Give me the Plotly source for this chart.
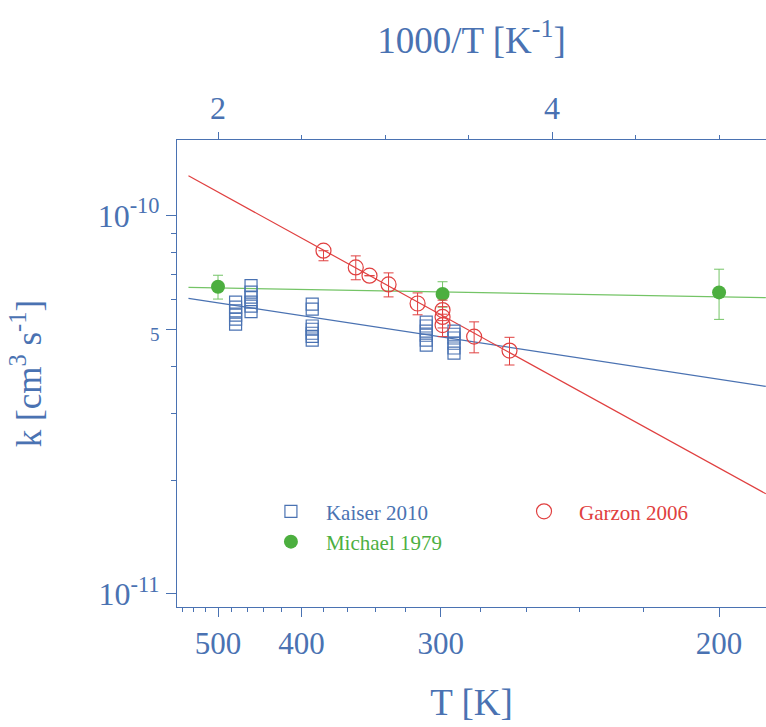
import numpy as np
import plotly.graph_objects as go

# ---------------- data ----------------
# Kaiser 2010 (open squares)
kaiser_T = [475, 475, 475, 475, 475, 475,
            455, 455, 455, 455, 455, 455,
            390, 390, 390, 390, 390, 390, 390,
            308, 308, 308, 308, 308, 308,
            293, 293, 293, 293, 293, 293]
kaiser_k = [5.91e-11, 5.73e-11, 5.60e-11, 5.46e-11, 5.33e-11, 5.17e-11,
            6.53e-11, 6.28e-11, 6.09e-11, 5.91e-11, 5.77e-11, 5.58e-11,
            5.84e-11, 5.66e-11, 5.11e-11, 5.01e-11, 4.89e-11, 4.80e-11, 4.69e-11,
            5.23e-11, 5.11e-11, 4.95e-11, 4.83e-11, 4.69e-11, 4.55e-11,
            4.95e-11, 4.86e-11, 4.75e-11, 4.60e-11, 4.47e-11, 4.33e-11]

# Garzon 2006 (open circles)
garzon_T = [380, 354, 344, 331, 313, 299, 299, 299, 283, 267]
garzon_k = [8.08e-11, 7.30e-11, 6.94e-11, 6.58e-11, 5.86e-11,
            5.63e-11, 5.40e-11, 5.14e-11, 4.79e-11, 4.40e-11]
garzon_err_plus = [0.0, 0.53e-11, 0.0, 0.48e-11, 0.39e-11,
                   0.35e-11, 0.35e-11, 0.35e-11, 0.45e-11, 0.37e-11]
garzon_err_minus = [0.48e-11, 0.53e-11, 0.0, 0.48e-11, 0.39e-11,
                    0.35e-11, 0.35e-11, 0.35e-11, 0.45e-11, 0.37e-11]

# Michael 1979 (filled circles)
michael_T = [500, 299, 200]
michael_k = [6.49e-11, 6.21e-11, 6.27e-11]
michael_err = [0.47e-11, 0.48e-11, 0.95e-11]

# Arrhenius fits  k = A * exp(-E/T)
fit_A = {"Kaiser": 8.02e-11, "Garzon": 3.54e-10, "Michael": 6.68e-11}
fit_E = {"Kaiser": 155.0, "Garzon": 560.0, "Michael": 18.0}
fit_T_range = [548.5, 189.4]

# axis ticks
T_major = [500, 400, 300, 200]
T_minor = [560, 540, 520, 480, 460, 440, 420, 380, 360, 340, 320, 280, 260, 240, 220]
inv_major = [2, 4]
inv_minor = [2.5, 3, 3.5, 4.5, 5]
k_major = [1e-11, 5e-11, 1e-10]
k_minor = [2e-11, 3e-11, 4e-11, 6e-11, 7e-11, 8e-11, 9e-11]

# ---------------- styles ----------------
AX = "#4a72b2"
BLUE = "#4a72b2"
RED = "#e04040"
GREEN = "#4caf3f"
GREEN_LINE = "#74c466"
FONT = "Liberation Serif"

inv = lambda T: [1000.0 / t for t in T]

fig = go.Figure()

# fit lines
xfit = np.linspace(1000.0 / fit_T_range[0], 1000.0 / fit_T_range[1], 80)
Tfit = 1000.0 / xfit
for name, col in [("Kaiser", BLUE), ("Michael", GREEN_LINE), ("Garzon", RED)]:
    fig.add_trace(go.Scatter(x=xfit, y=fit_A[name] * np.exp(-fit_E[name] / Tfit),
                             mode="lines", line=dict(color=col, width=1.2),
                             showlegend=False, hoverinfo="skip"))

fig.add_trace(go.Scatter(
    x=inv(kaiser_T), y=kaiser_k, mode="markers", legend="legend",
    name="<span style='color:%s'>Kaiser 2010</span>" % BLUE,
    marker=dict(symbol="square-open", size=12, color=BLUE, line=dict(width=1.2))))

fig.add_trace(go.Scatter(
    x=inv(michael_T), y=michael_k, mode="markers", legend="legend",
    name="<span style='color:%s'>Michael 1979</span>" % GREEN,
    marker=dict(symbol="circle", size=14, color=GREEN),
    error_y=dict(type="data", array=michael_err, color=GREEN_LINE, thickness=1, width=5)))

fig.add_trace(go.Scatter(
    x=inv(garzon_T), y=garzon_k, mode="markers", legend="legend2",
    name="<span style='color:%s'>Garzon 2006</span>" % RED,
    marker=dict(symbol="circle-open", size=15, color=RED, line=dict(width=1.2)),
    error_y=dict(type="data", symmetric=False, array=garzon_err_plus,
                 arrayminus=garzon_err_minus, color=RED, thickness=1, width=5)))

# dummy trace to activate the top axis
fig.add_trace(go.Scatter(x=inv(michael_T), y=michael_k, xaxis="x2", mode="markers",
                         marker=dict(opacity=0), showlegend=False, hoverinfo="skip"))

xr = [1.7545, 5.281]
yr = [-11.0344, -9.7999]

leg_common = dict(orientation="v", xanchor="left", yanchor="top", itemwidth=60,
                  font=dict(family=FONT, size=21), bgcolor="rgba(0,0,0,0)",
                  traceorder="normal", tracegroupgap=0)

fig.update_layout(
    width=766, height=727,
    margin=dict(l=177, r=0, t=140, b=120),
    plot_bgcolor="white", paper_bgcolor="white",
    font=dict(family=FONT, color=AX),
    showlegend=True,
    legend=dict(x=0.134, y=0.248, **leg_common),
    legend2=dict(x=0.5637, y=0.248, **leg_common),
    xaxis=dict(range=xr, showgrid=False, zeroline=False, automargin=False,
               showline=True, linecolor=AX, linewidth=1.2,
               tickmode="array", tickvals=inv(T_major), ticktext=[str(t) for t in T_major],
               ticks="outside", ticklen=9, tickwidth=1, tickcolor=AX,
               tickfont=dict(family=FONT, size=31, color=AX),
               minor=dict(tickmode="array", tickvals=inv(T_minor), ticks="outside",
                          ticklen=4, tickwidth=1, tickcolor=AX),
               title=dict(text="T [K]", font=dict(family=FONT, size=37, color=AX), standoff=28)),
    xaxis2=dict(range=xr, overlaying="x", side="top", anchor="y", showgrid=False, zeroline=False,
                automargin=False,
                showline=True, linecolor=AX, linewidth=1.2,
                tickmode="array", tickvals=inv_major, ticktext=[str(v) for v in inv_major],
                ticks="outside", ticklen=7, tickwidth=1, tickcolor=AX,
                tickfont=dict(family=FONT, size=32, color=AX),
                minor=dict(tickmode="array", tickvals=inv_minor, ticks="outside",
                           ticklen=4, tickwidth=1, tickcolor=AX),
                title=dict(text="1000/T [K<sup>-1</sup>]", font=dict(family=FONT, size=37, color=AX),
                           standoff=25)),
    yaxis=dict(type="log", range=yr, showgrid=False, zeroline=False, automargin=False,
               showline=True, linecolor=AX, linewidth=1.2,
               tickmode="array", tickvals=k_major,
               ticktext=["10<sup>-11</sup>", "<span style='font-size:19px'>5</span>", "10<sup>-10</sup>"],
               ticks="outside", ticklen=10, tickwidth=1, tickcolor=AX,
               tickfont=dict(family=FONT, size=32, color=AX),
               minor=dict(tickmode="array", tickvals=k_minor, ticks="outside",
                          ticklen=5, tickwidth=1, tickcolor=AX),
               title=dict(text="k [cm<sup>3</sup> s<sup>-1</sup>]",
                          font=dict(family=FONT, size=35, color=AX), standoff=45)),
)

fig.write_html("out.html", config={"displayModeBar": False},
               post_script="document.body.style.margin='0';document.body.style.overflow='hidden';")
